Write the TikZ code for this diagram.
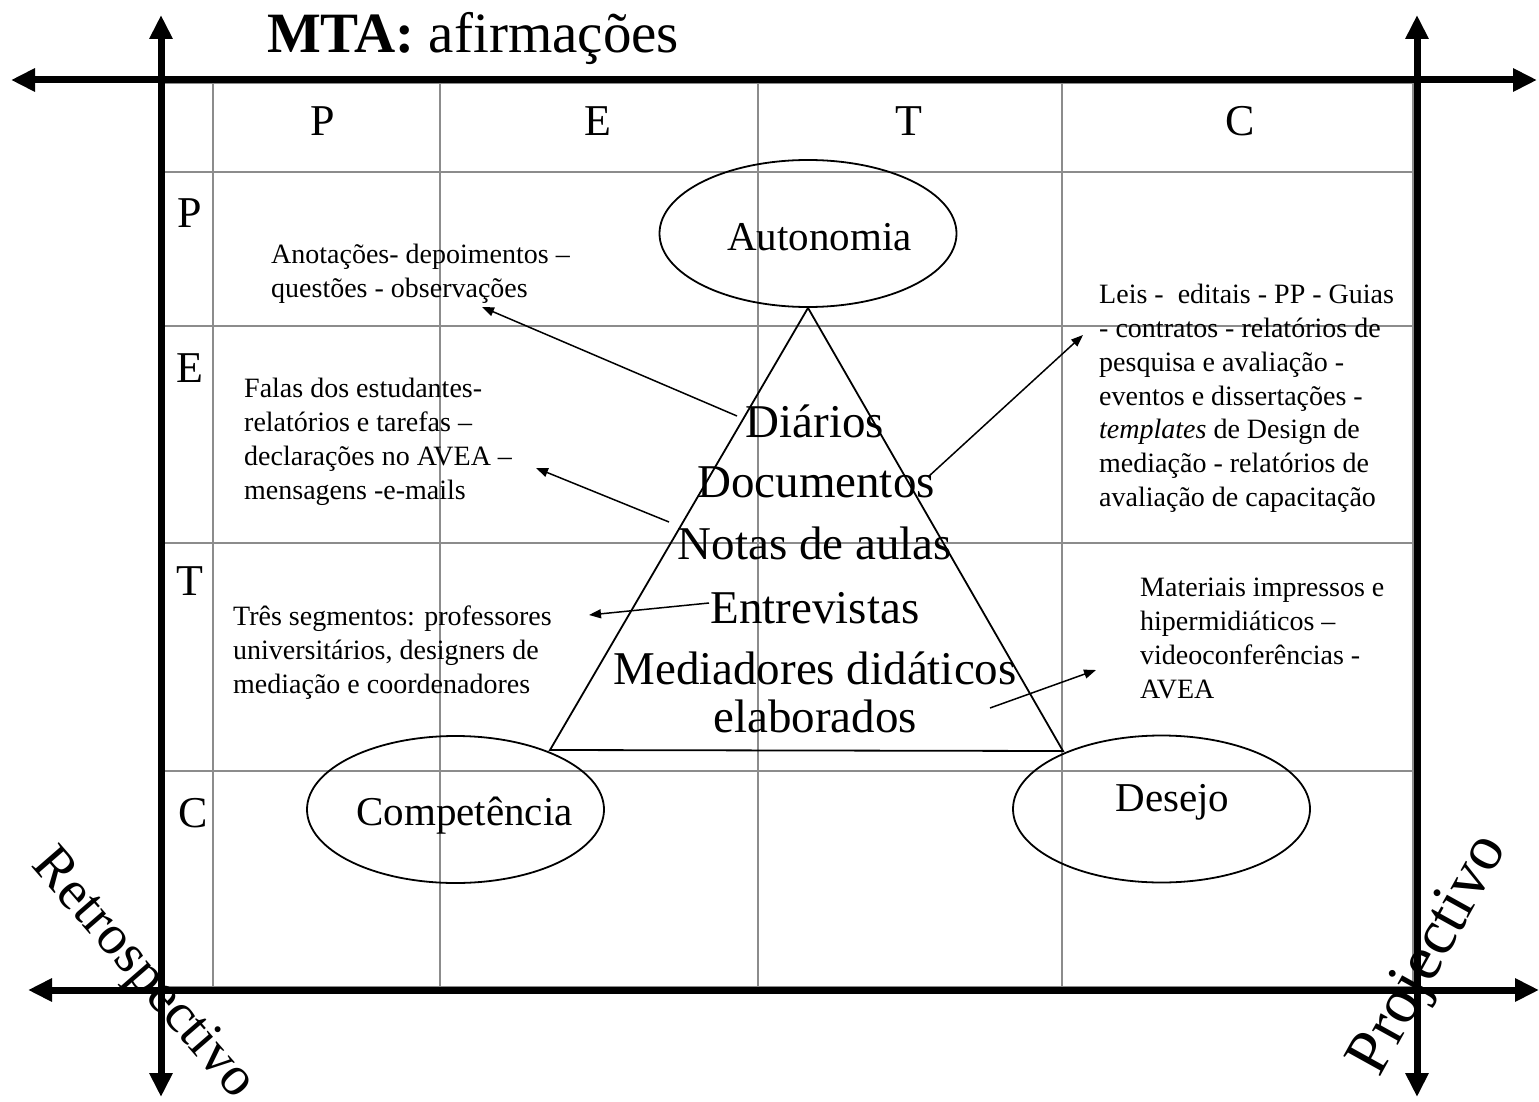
\documentclass[tikz,border=0pt]{standalone}
\usepackage{fontspec}
\setmainfont{Liberation Serif}
\usetikzlibrary{arrows.meta,shapes.geometric}
\begin{document}
\begin{tikzpicture}[x=1pt,y=-1pt,
  gridline/.style={draw=black!45, line width=1.3pt},
  axis/.style={line width=7pt, {Triangle[length=24pt,width=22pt]}-{Triangle[length=24pt,width=22pt]}},
  conn/.style={line width=1.5pt, -{Triangle[length=12pt,width=9pt]}},
  oval/.style={ellipse, draw, line width=1.8pt, minimum width=297pt, minimum height=147pt, inner sep=0pt},
  ovaltxt/.style={anchor=base, inner sep=0pt, font=\fontsize{41}{45}\selectfont},
  hdr/.style={anchor=base, inner sep=0pt, font=\fontsize{44}{48}\selectfont},
  pyr/.style={anchor=base, inner sep=0pt, font=\fontsize{47}{48}\selectfont},
  note/.style={anchor=north west, inner sep=0pt, align=left, font=\fontsize{28}{33.8}\selectfont},
  side/.style={inner sep=0pt, font=\fontsize{56}{60}\selectfont}
]
\useasboundingbox (0,0) rectangle (1539,1102);

% grid
\draw[gridline] (163,83) rectangle (1413,987);
\foreach \gx in {213,440,758,1062} \draw[gridline] (\gx,83) -- (\gx,987);
\foreach \gy in {172,326,543,771} \draw[gridline] (163,\gy) -- (1413,\gy);

% axes
\coordinate (topL) at (11,80);   \coordinate (topR) at (1537,80);
\coordinate (botL) at (28,990);  \coordinate (botR) at (1539,990);
\coordinate (lftT) at (161,15);  \coordinate (lftB) at (161,1097);
\coordinate (rgtT) at (1417,15); \coordinate (rgtB) at (1417,1097);
\draw[axis] (topL) -- (topR);
\draw[axis] (botL) -- (botR);
\draw[axis] (lftT) -- (lftB);
\draw[axis] (rgtT) -- (rgtB);

% title
\node[anchor=base, inner sep=0pt, font=\fontsize{57}{60}\selectfont] (title) at (473,53) {\textbf{MTA:} afirmações};

% headers
\node[hdr] (hP) at (323,136) {P};
\node[hdr] (hE) at (598,136) {E};
\node[hdr] (hT) at (909,136) {T};
\node[hdr] (hC) at (1240,136) {C};
\node[hdr] (rP) at (190,228) {P};
\node[hdr] (rE) at (190,382) {E};
\node[hdr] (rT) at (190,595) {T};
\node[hdr] (rC) at (193,827) {C};

% ellipses
\node[oval] (auto) at (808,233.5) {};
\node[ovaltxt] (autotxt) at (819.5,250) {Autonomia};
\node[oval] (comp) at (455.5,809.5) {};
\node[ovaltxt] (comptxt) at (464.5,825) {Competência};
\node[oval] (des) at (1161.5,809) {};
\node[ovaltxt] (destxt) at (1172.5,811) {Desejo};

% triangle
\coordinate (tbl) at (550,750);
\coordinate (tbr) at (1063,751);
\draw[line width=1.8pt, line join=miter] (auto.south) -- (tbl) -- (tbr) -- cycle;

% pyramid texts
\node[pyr] (diarios) at (815,437) {Diários};
\node[pyr] (docs) at (816,497) {Documentos};
\node[pyr] (notas) at (815,559) {Notas de aulas};
\node[pyr] (entr) at (815,623) {Entrevistas};
\node[pyr, anchor=north, align=center] (medi) at (815,652) {Mediadores didáticos\\elaborados};

% notes
\node[note] (n1) at (271,244) {Anotações- depoimentos –\\questões - observações};
\node[note] (n2) at (244,378) {Falas dos estudantes-\\relatórios e tarefas –\\declarações no AVEA –\\mensagens -e-mails};
\node[note] (n3) at (233,606) {Três segmentos: professores\\universitários, designers de\\mediação e coordenadores};
\node[note] (n4) at (1099,284) {Leis -\ \ editais - PP - Guias\\- contratos - relatórios de\\pesquisa e avaliação -\\eventos e dissertações -\\\textit{templates} de Design de\\mediação - relatórios de\\avaliação de capacitação};
\node[note] (n5) at (1140,578) {Materiais impressos e\\hipermidiáticos –\\videoconferências -\\AVEA};

% connectors
\coordinate (a1s) at (737,416);  \coordinate (a1e) at (482,307);
\coordinate (a2s) at (669,522);  \coordinate (a2e) at (536,468);
\coordinate (a3s) at (709,603);  \coordinate (a3e) at (589,615);
\coordinate (a4s) at (928,477);  \coordinate (a4e) at (1083,335);
\coordinate (a5s) at (990,708);  \coordinate (a5e) at (1096,670);
\draw[conn] (a1s) -- (a1e);
\draw[conn] (a2s) -- (a2e);
\draw[conn] (a3s) -- (a3e);
\draw[conn] (a4s) -- (a4e);
\draw[conn] (a5s) -- (a5e);

% rotated side labels
\node[side, rotate=-49] (retro) at (142,975) {Retrospectivo};
\node[side, rotate=61, font=\fontsize{64}{66}\selectfont] (proj) at (1431,956) {Projectivo};
\end{tikzpicture}
\end{document}
